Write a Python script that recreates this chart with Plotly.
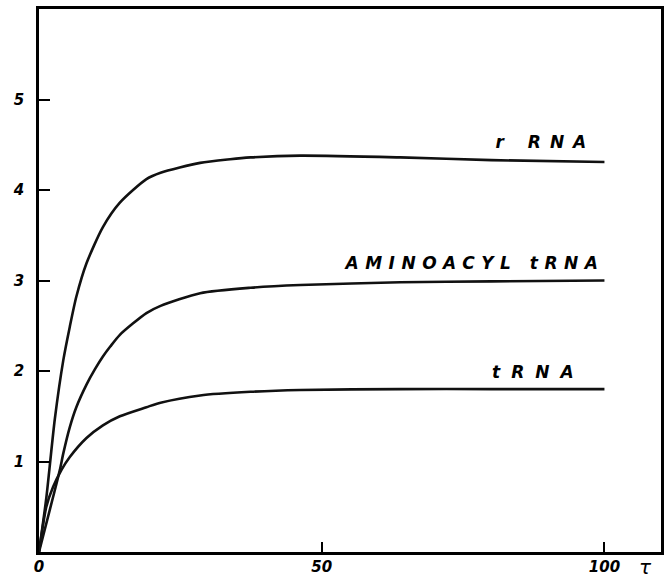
import plotly.graph_objects as go

# --- data (tau vs. amount) ---
t_rrna = [0, 1.3, 1.9, 2.8, 4.3, 5.45, 6.6, 8.4, 11.3, 14.3, 19.0, 21.5, 28.5, 33.8, 37.4, 46.2, 63.9, 80, 100]
v_rrna = [0, 0.60, 0.95, 1.47, 2.12, 2.49, 2.82, 3.19, 3.59, 3.86, 4.12, 4.19, 4.30, 4.34, 4.36, 4.38, 4.36, 4.33, 4.31]

t_amino = [0, 2.5, 3.7, 4.3, 5.45, 6.6, 8.4, 9.9, 11.3, 12.6, 14.3, 19.0, 21.5, 28.5, 37.4, 46.2, 63.9, 80, 100]
v_amino = [0, 0.61, 0.91, 1.09, 1.38, 1.60, 1.85, 2.02, 2.16, 2.27, 2.40, 2.64, 2.72, 2.86, 2.92, 2.95, 2.98, 2.99, 3.00]

t_trna = [0, 1.3, 2.5, 4.0, 5.45, 8.4, 11.3, 14.3, 19.0, 21.5, 28.5, 37.4, 46.2, 63.9, 80, 100]
v_trna = [0, 0.50, 0.72, 0.91, 1.05, 1.26, 1.40, 1.50, 1.60, 1.65, 1.73, 1.77, 1.79, 1.80, 1.80, 1.80]

series_names = ["r RNA", "AMINOACYL tRNA", "tRNA"]
label_x = [89.5, 77.0, 88.3]
label_y = [4.53, 3.19, 1.99]

x_tickvals = [0, 50, 100]
x_ticktext = ["0", "50", "100"]
y_tickvals = [1, 2, 3, 4, 5]
y_ticktext = ["1", "2", "3", "4", "5"]
x_axis_label = "τ"

FONT = dict(family="DejaVu Sans", size=15, color="black", weight="bold", style="italic")

fig = go.Figure()
for tx, vy, nm in [(t_rrna, v_rrna, series_names[0]),
                   (t_amino, v_amino, series_names[1]),
                   (t_trna, v_trna, series_names[2])]:
    fig.add_trace(go.Scatter(x=tx, y=vy, mode="lines", name=nm,
                             line=dict(color="#111111", width=2.6, shape="spline", smoothing=0.7),
                             showlegend=False, hoverinfo="skip"))

for nm, lx, ly in zip(series_names, label_x, label_y):
    fig.add_annotation(x=lx, y=ly, xref="x", yref="y", text=nm, showarrow=False,
                       xanchor="center", yanchor="middle", font=dict(FONT, size=17))

fig.add_annotation(x=107.3, y=0, xref="x", yref="paper", text=x_axis_label, showarrow=False,
                   xanchor="center", yanchor="top", yshift=-1,
                   font=dict(family="DejaVu Sans", size=20, color="black", style="italic"))

fig.update_xaxes(range=[0, 110], tickvals=x_tickvals, ticktext=x_ticktext,
                 ticks="inside", ticklen=10, tickwidth=1.5, tickcolor="black",
                 showline=True, linewidth=2.5, linecolor="black", mirror=True,
                 showgrid=False, zeroline=False, tickfont=FONT, ticklabelstandoff=-1,
                 automargin=False)
fig.update_yaxes(range=[0, 6], tickvals=y_tickvals, ticktext=y_ticktext,
                 ticks="inside", ticklen=11, tickwidth=1.5, tickcolor="black",
                 showline=True, linewidth=2.5, linecolor="black", mirror=True,
                 showgrid=False, zeroline=False, tickfont=FONT, ticklabelstandoff=9,
                 automargin=False)

fig.update_layout(width=667, height=578,
                  margin=dict(l=39, r=6, t=9, b=26),
                  paper_bgcolor="white", plot_bgcolor="white")

post = """
document.body.style.margin = '0';
document.body.style.padding = '0';
var sp = {"r RNA": "9px", "AMINOACYL tRNA": "6.5px", "tRNA": "11px"};
function applyLS(){
  document.querySelectorAll('.annotation-text').forEach(function(el){
    var k = el.textContent;
    if (sp[k]) { el.style.letterSpacing = sp[k]; }
  });
}
applyLS();
setTimeout(applyLS, 50);
"""

fig.write_html("out.html", post_script=post, config={"displayModeBar": False})
